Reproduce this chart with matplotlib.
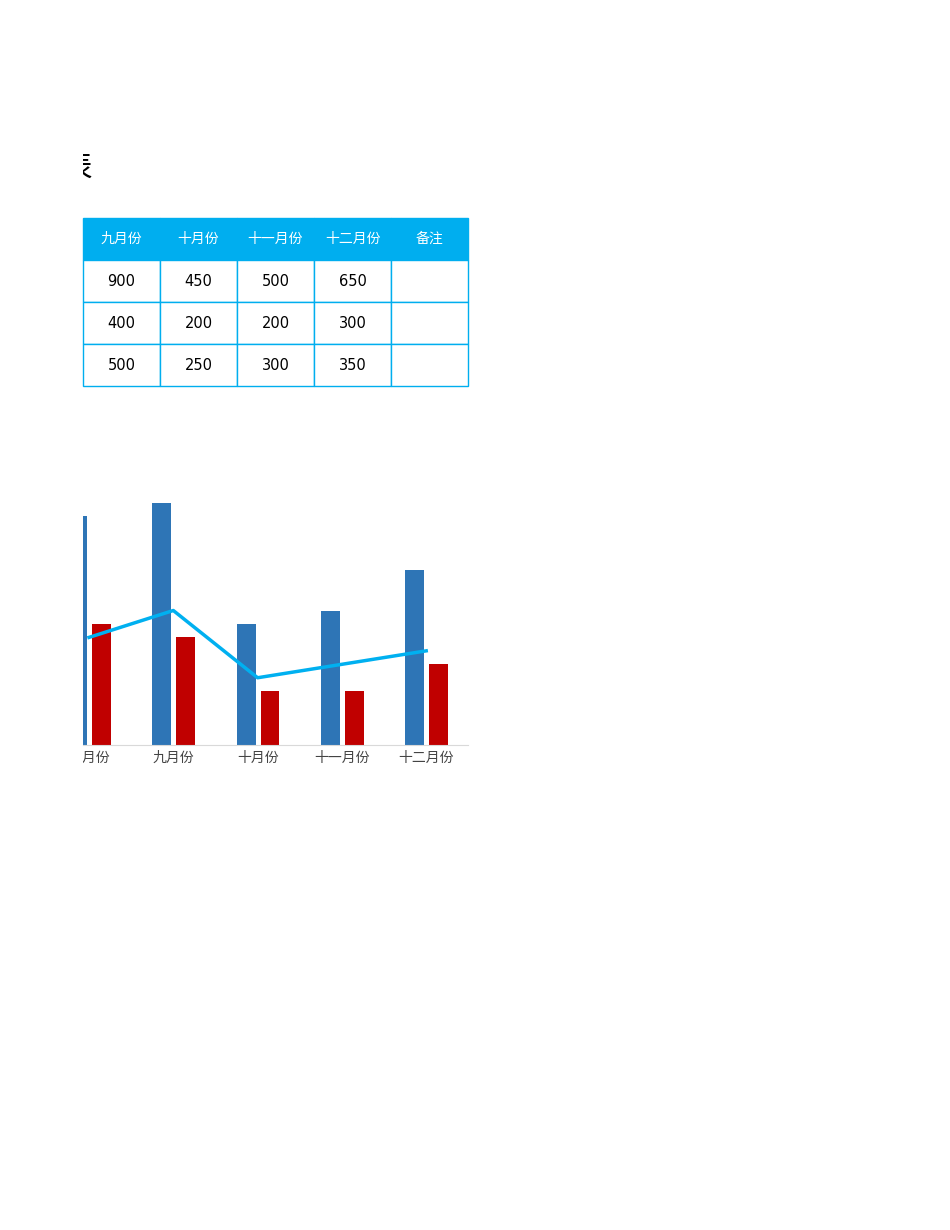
import matplotlib
matplotlib.use("Agg")
import matplotlib.pyplot as plt
import numpy as np
from matplotlib.patches import Rectangle
from matplotlib.transforms import Bbox

plt.rcParams["font.family"] = ["Noto Sans CJK SC", "DejaVu Sans"]

HEADERS = ["九月份", "十月份", "十一月份", "十二月份", "备注"]
TABLE_ROWS = [["900", "450", "500", "650", ""],
              ["400", "200", "200", "300", ""],
              ["500", "250", "300", "350", ""]]

CATEGORIES = ["八月份", "九月份", "十月份", "十一月份", "十二月份"]
BLUE_VALUES = [850, 900, 450, 500, 650]
RED_VALUES = [450, 400, 200, 200, 300]
LINE_VALUES = [400, 500, 250, 300, 350]

W, H = 950, 1230
HEAD_BLUE = "#00AEEF"
fig = plt.figure(figsize=(9.5, 12.3), dpi=100)

# clipped title fragment
t = fig.text(62 / W, 1 - 168 / H, "表", fontsize=22, va="center", ha="left",
             family=["Noto Sans CJK SC"])
t.set_clip_box(Bbox.from_extents(83, 0, W, H))
t.set_clip_on(True)

# table
col_edges = [83, 160, 237, 314, 391, 468]
row_edges = [218, 260, 302, 344, 386]
for r in range(4):
    for c in range(5):
        x0, x1 = col_edges[c], col_edges[c + 1]
        y0, y1 = row_edges[r], row_edges[r + 1]
        fc = HEAD_BLUE if r == 0 else "white"
        fig.patches.append(Rectangle((x0 / W, 1 - y1 / H), (x1 - x0) / W, (y1 - y0) / H,
                                     transform=fig.transFigure, facecolor=fc,
                                     edgecolor=HEAD_BLUE, linewidth=1))
        txt = HEADERS[c] if r == 0 else TABLE_ROWS[r - 1][c]
        fig.text((x0 + x1) / 2 / W, 1 - (y0 + y1) / 2 / H, txt, ha="center", va="center",
                 fontsize=10 if r == 0 else 10.5,
                 color="white" if r == 0 else "black",
                 family=["Noto Sans CJK SC"] if r == 0 else ["DejaVu Sans"])

# chart: x from 83 to 468 px, baseline at 745
step = 84.3
first = 89
ax = fig.add_axes([83 / W, 1 - 745 / H, (468 - 83) / W, (745 - 490) / H])
x = np.arange(len(CATEGORIES))
ax.bar(x - 0.136, BLUE_VALUES, width=0.225, color="#2E75B6", zorder=2)
ax.bar(x + 0.147, RED_VALUES, width=0.225, color="#C00000", zorder=2)
ax.plot(x, LINE_VALUES, color="#00B0F0", linewidth=2.5, zorder=3)
ax.set_xlim((83 - first) / step, (468 - first) / step)
ax.set_ylim(0, (745 - 490) / 0.269)
ax.set_xticks(x)
ax.set_xticklabels(CATEGORIES, fontsize=10, color="#444444")
ax.tick_params(axis="x", length=0, pad=4)
ax.set_yticks([])
for s in ("top", "right", "left"):
    ax.spines[s].set_visible(False)
ax.spines["bottom"].set_color("#D9D9D9")
# clip tick labels to the axes width
clip = Bbox.from_extents(83, 0, 468, H)
for lbl in ax.get_xticklabels():
    lbl.set_clip_box(clip)
    lbl.set_clip_on(True)

fig.savefig("out.png", dpi=100)
